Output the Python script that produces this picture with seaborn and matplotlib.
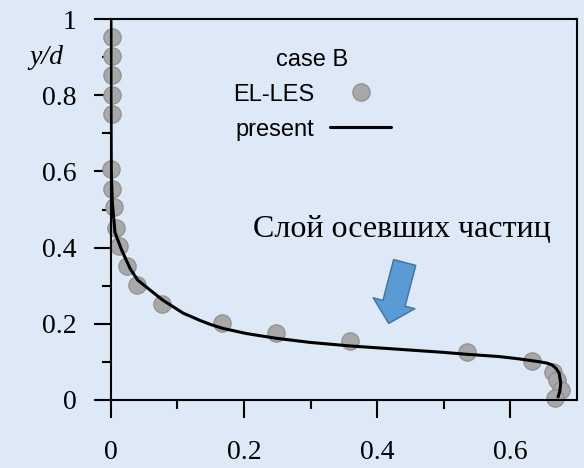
import matplotlib
matplotlib.use("Agg")
import matplotlib.pyplot as plt
from matplotlib.lines import Line2D
from matplotlib.patches import FancyArrowPatch, ArrowStyle
from matplotlib.ticker import FixedLocator, FixedFormatter
import pandas as pd
import seaborn as sns

# EL-LES reference points (case B)
les_x = [0.002, 0.002, 0.002, 0.0015, 0.0015, 0.0, 0.001, 0.0045, 0.007, 0.0125,
         0.0235, 0.0395, 0.076, 0.1675, 0.2475, 0.36, 0.5345, 0.633, 0.665, 0.671,
         0.676, 0.6675]
les_y = [0.953, 0.903, 0.853, 0.80, 0.75, 0.605, 0.553, 0.506, 0.452, 0.404,
         0.352, 0.301, 0.252, 0.201, 0.177, 0.155, 0.127, 0.103, 0.074, 0.052,
         0.027, 0.004]

# present model profile
line_x = [0.0, 0.0, 0.0005, 0.002, 0.006, 0.016, 0.0285, 0.04, 0.0585, 0.078,
          0.1085, 0.135, 0.15, 0.168, 0.205, 0.2485, 0.30, 0.3585, 0.4335, 0.5,
          0.5345, 0.5835, 0.613, 0.6435, 0.655, 0.663, 0.669, 0.6735, 0.676,
          0.6745, 0.672]
line_y = [1.0, 0.8, 0.6, 0.52, 0.44, 0.394, 0.346, 0.315, 0.289, 0.262,
          0.228, 0.208, 0.198, 0.188, 0.174, 0.162, 0.151, 0.142, 0.133, 0.125,
          0.12, 0.114, 0.108, 0.1005, 0.097, 0.092, 0.083, 0.071, 0.045,
          0.022, 0.008]

x_major = [0, 0.2, 0.4, 0.6]
x_minor = [0.1, 0.3, 0.5]
x_labels = ["0", "0.2", "0.4", "0.6"]
y_major = [0, 0.2, 0.4, 0.6, 0.8, 1.0]
y_minor = [0.1, 0.3, 0.5, 0.7, 0.9]
y_labels = ["0", "0.2", "0.4", "0.6", "0.8", "1"]

BG = "#dde9f6"
GRAY = "#a8a8a8"
GRAY_EDGE = "#8c8c8c"
ARROW = "#5b9bd5"
ARROW_EDGE = "#41719c"

sns.set_style("ticks")
plt.rcParams["font.family"] = ["Liberation Serif", "DejaVu Serif"]
plt.rcParams["text.color"] = "black"
plt.rcParams["xtick.color"] = "black"
plt.rcParams["ytick.color"] = "black"
plt.rcParams["axes.labelcolor"] = "black"

les = pd.DataFrame({"x": les_x, "y": les_y})
prof = pd.DataFrame({"x": line_x, "y": line_y})

fig = plt.figure(figsize=(5.84, 4.68), dpi=100, facecolor=BG)
ax = fig.add_axes([0.190, 0.1453, 0.7975, 0.8141])
ax.set_facecolor(BG)

sns.scatterplot(data=les, x="x", y="y", ax=ax, s=156, color=GRAY,
                edgecolor=GRAY_EDGE, linewidth=0.8, clip_on=False,
                legend=False, zorder=1)
sns.lineplot(data=prof, x="x", y="y", ax=ax, sort=False, estimator=None,
             color="black", linewidth=2.2, zorder=2, legend=False)

ax.set_xlim(0, 0.7)
ax.set_ylim(0, 1)
ax.set_xlabel("")
ax.set_ylabel("")

ax.xaxis.set_major_locator(FixedLocator(x_major))
ax.xaxis.set_major_formatter(FixedFormatter(x_labels))
ax.xaxis.set_minor_locator(FixedLocator(x_minor))
ax.yaxis.set_major_locator(FixedLocator(y_major))
ax.yaxis.set_major_formatter(FixedFormatter(y_labels))
ax.yaxis.set_minor_locator(FixedLocator(y_minor))

for sp in ax.spines.values():
    sp.set_visible(True)
    sp.set_color("black")
    sp.set_linewidth(1.5)

ax.tick_params(which="both", direction="out", color="black", labelcolor="black",
               width=1.5, top=False, right=False)
ax.tick_params(which="major", length=12.6, labelsize=20)
ax.tick_params(axis="y", which="major", pad=12)
ax.tick_params(axis="x", which="major", pad=16)
ax.tick_params(which="minor", length=6.5)

ax.text(-0.072, 0.898, "y/d", style="italic", ha="right", va="center",
        fontsize=20, color="black", clip_on=False)

ax.text(0.437, 0.4286, "Слой осевших частиц", ha="center", va="baseline",
        fontsize=23, color="black")

arrow = FancyArrowPatch((0.4415, 0.361), (0.4175, 0.201),
                        arrowstyle=ArrowStyle.Simple(head_length=15, head_width=31,
                                                     tail_width=16.5),
                        mutation_scale=1, shrinkA=0, shrinkB=0,
                        facecolor=ARROW, edgecolor=ARROW_EDGE, linewidth=1,
                        zorder=3)
ax.add_patch(arrow)

handles = [
    Line2D([], [], marker="o", linestyle="none", markersize=12.5,
           markerfacecolor=GRAY, markeredgecolor=GRAY_EDGE, markeredgewidth=0.8),
    Line2D([], [], color="black", linewidth=2.2),
]
leg = ax.legend(handles, ["EL-LES", "present"], title="case B", markerfirst=False,
                frameon=False, loc="upper left", bbox_to_anchor=(0.3784, 0.921),
                bbox_transform=fig.transFigure, borderpad=0, handlelength=2.6,
                handletextpad=0.68, labelspacing=0.55,
                prop={"family": "Liberation Sans", "size": 17},
                title_fontproperties={"family": "Liberation Sans", "size": 17})
for t in leg.get_texts():
    t.set_color("black")
leg.get_title().set_color("black")

fig.savefig("out.png", dpi=100, facecolor=BG)
